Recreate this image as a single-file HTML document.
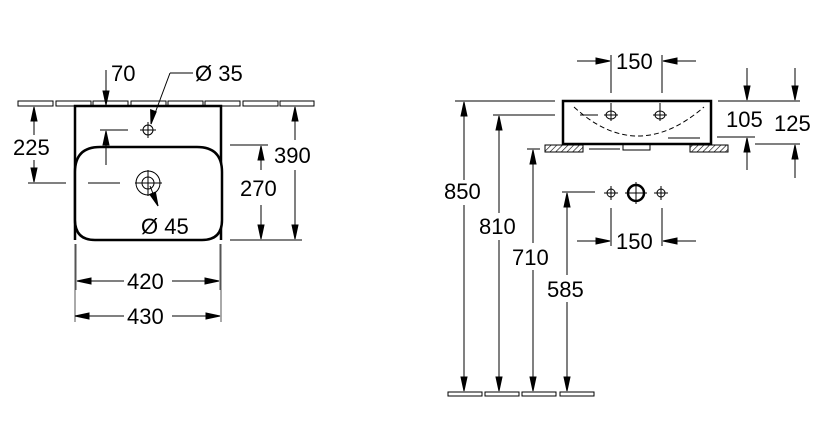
<!DOCTYPE html>
<html><head><meta charset="utf-8"><style>
html,body{margin:0;padding:0;background:#fff;}
svg{display:block;}
text{font-family:"Liberation Sans",sans-serif;font-size:22px;fill:#000;}
</style></head><body>
<svg id="s" width="827" height="425" viewBox="0 0 827 425" xmlns="http://www.w3.org/2000/svg">
<defs>
<pattern id="h" width="4" height="4" patternUnits="userSpaceOnUse" patternTransform="rotate(45)"><line x1="0" y1="0" x2="0" y2="4" stroke="#000" stroke-width="1.2"/></pattern>
</defs>
<g fill="none" stroke="#000" stroke-width="1">
<rect x="18" y="101" width="35" height="5"/><rect x="56" y="101" width="35" height="5"/><rect x="93" y="101" width="35" height="5"/><rect x="131" y="101" width="35" height="5"/><rect x="168" y="101" width="35" height="5"/><rect x="205" y="101" width="35" height="5"/><rect x="243" y="101" width="35" height="5"/><rect x="280" y="101" width="34" height="5"/>
<path d="M75,240 L75,106 L221,106 L221,240" stroke-width="2.5"/>
<path d="M100,147 L197,147 Q222,147 222,172 L222,220 Q222,240 202,240 L95,240 Q75,240 75,220 L75,172 Q75,147 100,147 Z" stroke-width="2.5" fill="#fff"/>
<path d="M75,244 V322 M76,244 V290 M220,244 V290 M221,244 V322" stroke="#555"/>
<circle cx="148" cy="130" r="5"/><path d="M140,130 H156 M148,122 V138"/>
<circle cx="148" cy="183" r="12"/><circle cx="148" cy="183" r="6"/><path d="M135,183 H162 M148,170 V196"/>
<path d="M28,183 H66 M88,183 H120"/>
<path d="M100,130 H128"/>
<path d="M193,73 H170"/>
<path d="M230,145 H268 M230,240 H302"/>
<path d="M563,101 H711 V144 H563 Z" stroke-width="2.5"/>
<path d="M574,107 Q637,165 704,107" stroke-dasharray="5,3"/>
<path d="M580,115 H598 M668,138 H700 M611,103 V110 M660,103 V110"/>
<ellipse cx="611" cy="115" rx="5" ry="4"/><path d="M604,115 H618 M611,109 V121"/>
<ellipse cx="660" cy="115" rx="5" ry="4"/><path d="M653,115 H667 M660,109 V121"/>
<rect x="545" y="145" width="38" height="7" fill="url(#h)"/>
<rect x="690" y="145" width="38" height="7" fill="url(#h)"/>
<path d="M589,149 H620 M623,144 V150 H650 V144"/>
<path d="M611,55 V93 M662,55 V93"/>
<path d="M718,101 H800 M717,137 H755 M755,144 H800"/>
<path d="M455,101 H555 M493,115 H555 M527,149 H540 M562,192 H595"/>
<rect x="448" y="392" width="34" height="4"/><rect x="485" y="392" width="34" height="4"/><rect x="522" y="392" width="34" height="4"/><rect x="560" y="392" width="34" height="4"/>
<circle cx="611" cy="193" r="4"/><path d="M604,193 H618 M611,186 V200"/>
<circle cx="636" cy="193" r="8" stroke-width="2.5"/><path d="M625,193 H647 M636,182 V204"/>
<circle cx="661" cy="193" r="4"/><path d="M654,193 H668 M661,186 V200"/>
<path d="M611,208 V246 M662,208 V246"/>
</g>
<g stroke="#000" stroke-width="1" fill="#000">
<line x1="34" y1="135" x2="34" y2="107"/><polygon points="34,107 31,121 37,121"/>
<line x1="34" y1="160" x2="34" y2="182"/><polygon points="34,182 31,168 37,168"/>
<line x1="106" y1="70" x2="106" y2="105"/><polygon points="106,105 103,91 109,91"/>
<line x1="106" y1="165" x2="106" y2="131"/><polygon points="106,131 103,145 109,145"/>
<line x1="170" y1="73" x2="151" y2="124"/><polygon points="151,124 150.6,109.7 156.2,111.8"/>
<line x1="150" y1="186" x2="158" y2="206"/><polygon points="158,206 149.8,194.3 155.4,192.1"/>
<line x1="295" y1="140" x2="295" y2="107"/><polygon points="295,107 292,121 298,121"/>
<line x1="295" y1="170" x2="295" y2="239"/><polygon points="295,239 292,225 298,225"/>
<line x1="261" y1="170" x2="261" y2="146"/><polygon points="261,146 258,160 264,160"/>
<line x1="261" y1="205" x2="261" y2="239"/><polygon points="261,239 258,225 264,225"/>
<line x1="124" y1="281" x2="77" y2="281"/><polygon points="77,281 91,278 91,284"/>
<line x1="172" y1="281" x2="219" y2="281"/><polygon points="219,281 205,278 205,284"/>
<line x1="124" y1="316" x2="75" y2="316"/><polygon points="75,316 89,313 89,319"/>
<line x1="172" y1="316" x2="220" y2="316"/><polygon points="220,316 206,313 206,319"/>
<line x1="577" y1="61" x2="610" y2="61"/><polygon points="610,61 596,58 596,64"/>
<line x1="696" y1="61" x2="663" y2="61"/><polygon points="663,61 677,58 677,64"/>
<line x1="747" y1="68" x2="747" y2="100"/><polygon points="747,100 744,86 750,86"/>
<line x1="747" y1="170" x2="747" y2="138"/><polygon points="747,138 744,152 750,152"/>
<line x1="795" y1="68" x2="795" y2="100"/><polygon points="795,100 792,86 798,86"/>
<line x1="795" y1="178" x2="795" y2="145"/><polygon points="795,145 792,159 798,159"/>
<line x1="464" y1="180" x2="464" y2="102"/><polygon points="464,102 461,116 467,116"/>
<line x1="464" y1="205" x2="464" y2="391"/><polygon points="464,391 461,377 467,377"/>
<line x1="499" y1="213" x2="499" y2="116"/><polygon points="499,116 496,130 502,130"/>
<line x1="499" y1="240" x2="499" y2="391"/><polygon points="499,391 496,377 502,377"/>
<line x1="533" y1="243" x2="533" y2="150"/><polygon points="533,150 530,164 536,164"/>
<line x1="533" y1="270" x2="533" y2="391"/><polygon points="533,391 530,377 536,377"/>
<line x1="567" y1="275" x2="567" y2="193"/><polygon points="567,193 564,207 570,207"/>
<line x1="567" y1="302" x2="567" y2="391"/><polygon points="567,391 564,377 570,377"/>
<line x1="577" y1="241" x2="610" y2="241"/><polygon points="610,241 596,238 596,244"/>
<line x1="696" y1="241" x2="663" y2="241"/><polygon points="663,241 677,238 677,244"/>
</g>
<g>
<text x="111" y="81">70</text>
<text x="195" y="81">Ø 35</text>
<text x="13" y="155">225</text>
<text x="274" y="163">390</text>
<text x="240" y="196">270</text>
<text x="141" y="234">Ø 45</text>
<text x="127" y="289">420</text>
<text x="127" y="324">430</text>
<text x="616" y="69">150</text>
<text x="726" y="127">105</text>
<text x="774" y="131">125</text>
<text x="444" y="199">850</text>
<text x="479" y="234">810</text>
<text x="512" y="265">710</text>
<text x="547" y="297">585</text>
<text x="616" y="249">150</text>
</g>
</svg>
</body></html>
